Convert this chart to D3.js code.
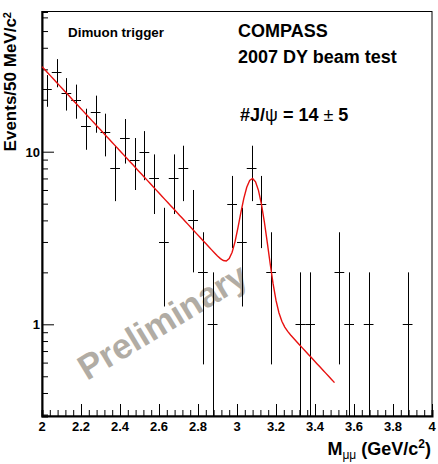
<!DOCTYPE html>
<html>
<head>
<meta charset="utf-8">
<script src="https://cdn.jsdelivr.net/npm/d3@7"></script>
<style>
	body { margin: 0; background: #fff; }
	svg text { font-family: "Liberation Sans", Arial, Helvetica, sans-serif; }
</style>
</head>
<body>
<div id="chartDiv"></div>
<script>

// Data: dimuon mass histogram, 50 MeV bins from 2.0 to 4.0 GeV/c2
var binCenters = [2.025, 2.075, 2.125, 2.175, 2.225, 2.275, 2.325, 2.375, 2.425, 2.475,
                  2.525, 2.575, 2.625, 2.675, 2.725, 2.775, 2.825, 2.875, 2.925, 2.975,
                  3.025, 3.075, 3.125, 3.175, 3.225, 3.275, 3.325, 3.375, 3.425, 3.475,
                  3.525, 3.575, 3.625, 3.675, 3.725, 3.775, 3.825, 3.875, 3.925, 3.975];
var counts     = [23, 29, 22, 20, 14, 17, 13, 8, 12, 9,
                  10, 7, 3, 7, 8, 4, 2, 1, 0, 5,
                  3, 8, 5, 2, 0, 0, 1, 1, 0, 0,
                  2, 1, 0, 1, 0, 0, 0, 1, 0, 0];
var binWidth   = 0.05;

// Fit: exponential background + gaussian J/psi peak
var fitRange   = [2.0, 3.5];
var bkgNorm    = 31.1;   // events/bin at 2 GeV
var bkgSlope   = 2.81;   // 1/GeV
var peakAmp    = 5.5;
var peakMean   = 3.08;
var peakSigma  = 0.05;

var xTickValues = [2, 2.2, 2.4, 2.6, 2.8, 3, 3.2, 3.4, 3.6, 3.8, 4];
var yTickValues = [1, 10];

var MassPlot = function() {

	var WIDTH  = 438;
	var HEIGHT = 464;
	var LEFT   = 42;
	var RIGHT  = 432;
	var TOP    = 11.5;
	var BOTTOM = 416;

	var svg    = null;
	var xScale = null;
	var yScale = null;

	/*---------------------------
	| constructor
	-----------------*/

	var constructor = function() {
		svg = d3.select("#chartDiv").append("svg")
			.attr("width", WIDTH)
			.attr("height", HEIGHT);

		xScale = d3.scaleLinear().domain([2, 4]).range([LEFT, RIGHT]);
		// 1 -> 324.3, 10 -> 151.7 in the original
		yScale = d3.scaleLog().domain([0.2943, 64.9]).range([BOTTOM, TOP]);

		drawWatermark();
		drawFrame();
		drawAxes();
		drawHistogram();
		drawFit();
		drawLabels();
		return {};
	}

	/*---------------------------
	| drawWatermark
	-----------------*/

	var drawWatermark = function() {
		svg.append("text")
			.attr("transform", "translate(87,381) rotate(-31)")
			.attr("font-size", 35)
			.attr("font-weight", "bold")
			.attr("fill", "#b1aca4")
			.text("Preliminary");
	}

	/*---------------------------
	| drawFrame
	-----------------*/

	var drawFrame = function() {
		svg.append("rect")
			.attr("x", LEFT).attr("y", TOP)
			.attr("width", RIGHT - LEFT).attr("height", BOTTOM - TOP)
			.attr("fill", "none").attr("stroke", "#000").attr("stroke-width", 1);
	}

	/*---------------------------
	| drawAxes
	-----------------*/

	var drawAxes = function() {
		// x axis: ticks pointing up, major every 0.2, minor every 0.04
		let xAxis = d3.axisTop(xScale)
			.tickValues(d3.range(0, 51).map(function(i) { return 2 + i * 0.04; }))
			.tickSize(6)
			.tickFormat("");
		let gx = svg.append("g").attr("transform", "translate(0," + BOTTOM + ")").call(xAxis);
		gx.selectAll(".tick line")
			.attr("y2", function(d) { return Math.abs(d * 5 - Math.round(d * 5)) < 1e-6 ? -12 : -6; });
		gx.select(".domain").attr("stroke-width", 2);

		svg.append("g").selectAll("text")
			.data(xTickValues).join("text")
			.attr("x", function(d) { return xScale(d); })
			.attr("y", 431)
			.attr("text-anchor", "middle")
			.attr("font-size", 13)
			.attr("font-weight", "bold")
			.text(function(d) { return d3.format("")(d); });

		// y axis: log, ticks pointing right
		let yMinor = [0.3, 0.4, 0.5, 0.6, 0.7, 0.8, 0.9, 2, 3, 4, 5, 6, 7, 8, 9, 20, 30, 40, 50, 60];
		let yAxis = d3.axisRight(yScale)
			.tickValues(yMinor.concat(yTickValues))
			.tickSize(6)
			.tickFormat("");
		let gy = svg.append("g").attr("transform", "translate(" + LEFT + ",0)").call(yAxis);
		gy.selectAll(".tick line")
			.attr("x2", function(d) { return yTickValues.indexOf(d) >= 0 ? 12 : 6; });
		gy.select(".domain").attr("stroke-width", 2);

		svg.append("g").selectAll("text")
			.data(yTickValues).join("text")
			.attr("x", 40)
			.attr("y", function(d) { return yScale(d) + 5; })
			.attr("text-anchor", "end")
			.attr("font-size", 13)
			.attr("font-weight", "bold")
			.text(function(d) { return d; });
	}

	/*---------------------------
	| drawHistogram
	-----------------*/

	var drawHistogram = function() {
		let pts = binCenters.map(function(m, i) { return { m: m, n: counts[i] }; })
			.filter(function(p) { return p.n > 0; });
		let g = svg.append("g").attr("stroke", "#000").attr("stroke-width", 1);
		let yMin = yScale.domain()[0];

		g.selectAll("line.err").data(pts).join("line")
			.attr("class", "err")
			.attr("x1", function(p) { return Math.round(xScale(p.m)) + 0.5; })
			.attr("x2", function(p) { return Math.round(xScale(p.m)) + 0.5; })
			.attr("y1", function(p) { return yScale(p.n + Math.sqrt(p.n)); })
			.attr("y2", function(p) { return yScale(Math.max(p.n - Math.sqrt(p.n), yMin)); });

		g.selectAll("line.bin").data(pts).join("line")
			.attr("class", "bin")
			.attr("x1", function(p) { return xScale(p.m - binWidth / 2); })
			.attr("x2", function(p) { return xScale(p.m + binWidth / 2); })
			.attr("y1", function(p) { return Math.round(yScale(p.n)) + 0.5; })
			.attr("y2", function(p) { return Math.round(yScale(p.n)) + 0.5; });
	}

	/*---------------------------
	| drawFit
	-----------------*/

	var drawFit = function() {
		// ROOT-style coarse sampling, 100 segments
		let npx = 100;
		let ms = d3.range(npx + 1).map(function(i) {
			return fitRange[0] + i * (fitRange[1] - fitRange[0]) / npx;
		});
		let fitFn = function(m) {
			let z = (m - peakMean) / peakSigma;
			return bkgNorm * Math.exp(-bkgSlope * (m - 2)) + peakAmp * Math.exp(-0.5 * z * z);
		};
		let line = d3.line()
			.x(function(m) { return xScale(m); })
			.y(function(m) { return yScale(fitFn(m)); });
		svg.append("path")
			.datum(ms)
			.attr("d", line)
			.attr("fill", "none")
			.attr("stroke", "#e8100f")
			.attr("stroke-width", 1.4);
	}

	/*---------------------------
	| drawLabels
	-----------------*/

	var drawLabels = function() {
		svg.append("text")
			.attr("x", 68).attr("y", 37)
			.attr("font-size", 13.4).attr("font-weight", "bold")
			.text("Dimuon trigger");

		svg.append("text")
			.attr("x", 238).attr("y", 37)
			.attr("font-size", 18).attr("font-weight", "bold")
			.text("COMPASS");

		svg.append("text")
			.attr("x", 238).attr("y", 63)
			.attr("font-size", 18).attr("font-weight", "bold")
			.text("2007 DY beam test");

		let jpsi = svg.append("text")
			.attr("x", 240).attr("y", 121)
			.attr("font-size", 18).attr("font-weight", "bold");
		jpsi.append("tspan").text("#J/");
		jpsi.append("tspan").attr("font-weight", "normal").text("\u03c8");
		jpsi.append("tspan").text(" = 14 ");
		jpsi.append("tspan").attr("font-weight", "normal").text("\u00b1");
		jpsi.append("tspan").text(" 5");

		// x axis title, right-aligned with the axis end
		let xt = svg.append("text")
			.attr("x", 431).attr("y", 455)
			.attr("text-anchor", "end")
			.attr("font-size", 18).attr("font-weight", "bold");
		xt.append("tspan").text("M");
		xt.append("tspan").attr("font-size", 12).attr("font-weight", "normal").attr("dy", 4).text("\u03bc\u03bc");
		xt.append("tspan").attr("dy", -4).text(" (GeV/c");
		xt.append("tspan").attr("font-size", 12).attr("dy", -7).text("2");
		xt.append("tspan").attr("dy", 7).text(")");

		// y axis title, right-aligned with the top of the axis
		let yt = svg.append("text")
			.attr("transform", "translate(16,12) rotate(-90)")
			.attr("text-anchor", "end")
			.attr("font-size", 17).attr("font-weight", "bold");
		yt.append("tspan").text("Events/50 MeV/c");
		yt.append("tspan").attr("font-size", 11).attr("dy", -5).text("2");
	}

	return constructor();
}

var massPlot = MassPlot();

</script>
</body>
</html>
